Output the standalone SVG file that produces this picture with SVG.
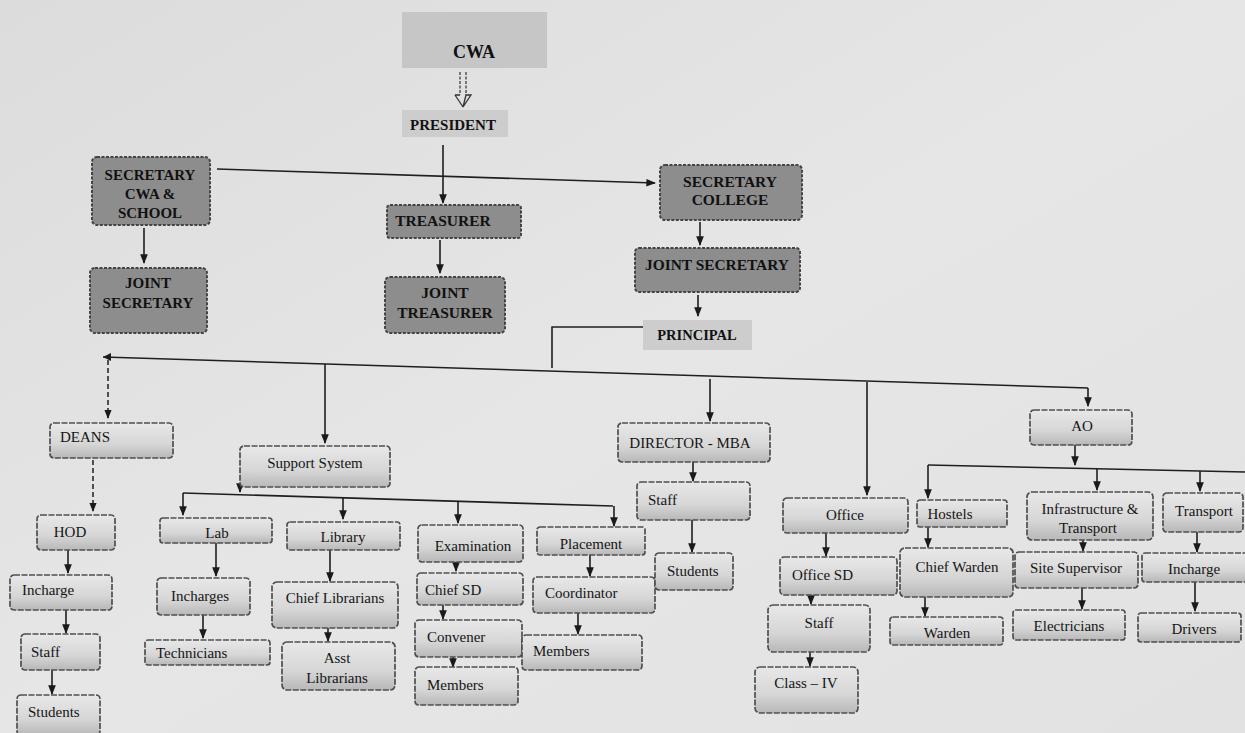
<svg xmlns="http://www.w3.org/2000/svg" width="1245" height="733" viewBox="0 0 1245 733">
<defs>
<linearGradient id="bg" x1="0" y1="0" x2="1" y2="1">
<stop offset="0" stop-color="#dcdcdc"/>
<stop offset="0.5" stop-color="#e6e6e6"/>
<stop offset="1" stop-color="#e2e2e2"/>
</linearGradient>
<linearGradient id="lt" x1="0" y1="0" x2="0" y2="1">
<stop offset="0" stop-color="#e8e8e8"/>
<stop offset="0.6" stop-color="#d6d6d6"/>
<stop offset="1" stop-color="#b8b8b8"/>
</linearGradient>
<marker id="ah" viewBox="0 0 10 10" refX="9" refY="5" markerWidth="6" markerHeight="6" orient="auto">
<path d="M0,1 L10,5 L0,9 z" fill="#1a1a1a"/>
</marker>
<style>
.lt{fill:url(#lt);stroke:#4f4f4f;stroke-width:1.7;stroke-dasharray:6 1.5}
.dk{fill:#8d8d8d;stroke:#444;stroke-width:2;stroke-dasharray:3 1.5}
.t{font-family:"Liberation Serif","Times New Roman",serif;font-size:15px;fill:#151515}
.b{font-family:"Liberation Serif","Times New Roman",serif;font-weight:bold;fill:#111;text-anchor:middle}
.c{text-anchor:middle}
.ln{fill:none;stroke:#1f1f1f;stroke-width:1.6}
.ar{fill:none;stroke:#1f1f1f;stroke-width:1.6;marker-end:url(#ah)}
.da{fill:none;stroke:#1f1f1f;stroke-width:1.5;stroke-dasharray:5 3;marker-end:url(#ah)}
</style>
</defs>
<rect width="1245" height="733" fill="url(#bg)"/>

<g id="connectors">
<path d="M460,72 V95 M466,72 V95" fill="none" stroke="#333" stroke-width="1.2" stroke-dasharray="3 1.5"/>
<path d="M455,95 H460 M466,95 H471 L463,107 Z M455,95 L463,107" fill="none" stroke="#333" stroke-width="1.3"/>
<path class="ar" d="M443,145 V203"/>
<path class="ar" d="M217,169 L655,183"/>
<path class="ar" d="M144,228 V263"/>
<path class="ar" d="M440,240 V273"/>
<path class="ar" d="M700,222 V245"/>
<path class="ar" d="M698,295 V316"/>
<path class="ln" d="M643,327 H552 V368"/>
<path class="ln" d="M1088,388 L103,357"/>
<path d="M103,357 L111,353 L111,361 z" fill="#1a1a1a"/>
<path class="da" d="M108,360 V418"/>
<path class="ar" d="M325,364 V443"/>
<path class="ar" d="M710,379 V421"/>
<path class="ar" d="M867,382 V495"/>
<path class="ar" d="M1088,388 V406"/>
<path class="da" d="M93,460 V511"/>
<path class="ar" d="M68,550 V573"/>
<path class="ar" d="M66,610 V633"/>
<path class="ar" d="M52,670 V694"/>
<path class="ar" d="M240,487 V492"/>
<path class="ln" d="M183,493 L613,506"/>
<path class="ar" d="M183,493 V515"/>
<path class="ar" d="M343,498 V519"/>
<path class="ar" d="M458,501 V523"/>
<path class="ar" d="M614,506 V526"/>
<path class="ar" d="M216,543 V576"/>
<path class="ar" d="M203,615 V638"/>
<path class="ar" d="M330,550 V581"/>
<path class="ar" d="M328,628 V641"/>
<path class="ar" d="M456,562 V571"/>
<path class="ar" d="M443,605 V619"/>
<path class="ar" d="M453,657 V667"/>
<path class="ar" d="M590,555 V576"/>
<path class="ar" d="M578,613 V634"/>
<path class="ar" d="M693,462 V481"/>
<path class="ar" d="M692,520 V552"/>
<path class="ar" d="M826,533 V556"/>
<path class="ar" d="M811,595 V604"/>
<path class="ar" d="M810,652 V666"/>
<path class="ar" d="M1075,445 V465"/>
<path class="ln" d="M928,465 L1245,472"/>
<path class="ar" d="M928,465 V498"/>
<path class="ar" d="M1097,469 V490"/>
<path class="ar" d="M1200,471 V491"/>
<path class="ar" d="M928,527 V547"/>
<path class="ar" d="M925,597 V616"/>
<path class="ar" d="M1083,540 V551"/>
<path class="ar" d="M1082,588 V609"/>
<path class="ar" d="M1197,532 V552"/>
<path class="ar" d="M1195,582 V611"/>
</g>

<g id="cwa"><rect x="402" y="12" width="145" height="56" fill="#c6c6c6"/><text class="b" x="474" y="58" font-size="18">CWA</text></g>
<g id="president"><rect x="402" y="110" width="106" height="27" fill="#cdcdcd"/><text class="b" x="453" y="130" font-size="15">PRESIDENT</text></g>
<g id="secretary-cwa-school"><rect class="dk" x="92" y="157" width="118" height="68" rx="5"/><text class="b" x="150" y="180" font-size="15">SECRETARY</text><text class="b" x="150" y="199" font-size="15">CWA &amp;</text><text class="b" x="150" y="218" font-size="15">SCHOOL</text></g>
<g id="joint-secretary-left"><rect class="dk" x="90" y="268" width="117" height="65" rx="5"/><text class="b" x="148" y="288" font-size="15">JOINT</text><text class="b" x="148" y="308" font-size="15">SECRETARY</text></g>
<g id="treasurer"><rect class="dk" x="387" y="205" width="134" height="33" rx="3"/><text class="b" x="443" y="226" font-size="15.5">TREASURER</text></g>
<g id="joint-treasurer"><rect class="dk" x="385" y="277" width="120" height="56" rx="5"/><text class="b" x="445" y="298" font-size="15.5">JOINT</text><text class="b" x="445" y="318" font-size="15.5">TREASURER</text></g>
<g id="secretary-college"><rect class="dk" x="660" y="165" width="142" height="55" rx="5"/><text class="b" x="730" y="187" font-size="15.5">SECRETARY</text><text class="b" x="730" y="205" font-size="15.5">COLLEGE</text></g>
<g id="joint-secretary-right"><rect class="dk" x="635" y="248" width="165" height="44" rx="4"/><text class="b" x="717" y="270" font-size="15.4">JOINT SECRETARY</text></g>
<g id="principal"><rect x="643" y="320" width="109" height="30" fill="#cdcdcd"/><text class="b" x="697" y="340" font-size="14.5">PRINCIPAL</text></g>

<g id="deans"><rect class="lt" x="50" y="423" width="123" height="35" rx="4"/><text class="t" x="60" y="442" font-size="14">DEANS</text></g>
<g id="hod"><rect class="lt" x="37" y="515" width="78" height="35" rx="4"/><text class="t c" x="70" y="537" font-size="13">HOD</text></g>
<g id="incharge-deans"><rect class="lt" x="10" y="575" width="102" height="35" rx="4"/><text class="t" x="22" y="595" font-size="14">Incharge</text></g>
<g id="staff-deans"><rect class="lt" x="21" y="634" width="79" height="36" rx="4"/><text class="t" x="31" y="657" font-size="14">Staff</text></g>
<g id="students-deans"><rect class="lt" x="17" y="695" width="83" height="40" rx="4"/><text class="t" x="28" y="717" font-size="13">Students</text></g>

<g id="support-system"><rect class="lt" x="240" y="446" width="150" height="41" rx="4"/><text class="t c" x="315" y="468">Support System</text></g>
<g id="lab"><rect class="lt" x="160" y="518" width="112" height="25" rx="3"/><text class="t c" x="217" y="538" font-size="14">Lab</text></g>
<g id="library"><rect class="lt" x="287" y="522" width="113" height="28" rx="3"/><text class="t c" x="343" y="542" font-size="15.5">Library</text></g>
<g id="incharges"><rect class="lt" x="157" y="578" width="93" height="37" rx="4"/><text class="t c" x="200" y="601" font-size="16">Incharges</text></g>
<g id="technicians"><rect class="lt" x="145" y="640" width="125" height="25" rx="3"/><text class="t" x="156" y="658" font-size="14.5">Technicians</text></g>
<g id="chief-librarians"><rect class="lt" x="272" y="582" width="126" height="46" rx="5"/><text class="t c" x="335" y="603" font-size="17">Chief Librarians</text></g>
<g id="asst-librarians"><rect class="lt" x="282" y="642" width="113" height="48" rx="5"/><text class="t c" x="337" y="663" font-size="15.8">Asst</text><text class="t c" x="337" y="683" font-size="15.8">Librarians</text></g>
<g id="examination"><rect class="lt" x="418" y="525" width="105" height="37" rx="4"/><text class="t c" x="473" y="551" font-size="15.8">Examination</text></g>
<g id="chief-sd"><rect class="lt" x="417" y="573" width="106" height="32" rx="4"/><text class="t" x="425" y="595" font-size="15.4">Chief SD</text></g>
<g id="convener"><rect class="lt" x="415" y="620" width="107" height="37" rx="4"/><text class="t" x="427" y="642" font-size="14.8">Convener</text></g>
<g id="members-exam"><rect class="lt" x="415" y="667" width="103" height="38" rx="4"/><text class="t" x="427" y="690" font-size="15.2">Members</text></g>
<g id="placement"><rect class="lt" x="537" y="527" width="108" height="28" rx="3"/><text class="t c" x="591" y="549" font-size="14.9">Placement</text></g>
<g id="coordinator"><rect class="lt" x="533" y="577" width="122" height="36" rx="4"/><text class="t" x="545" y="598" font-size="14.7">Coordinator</text></g>
<g id="members-placement"><rect class="lt" x="522" y="635" width="120" height="35" rx="4"/><text class="t" x="533" y="656" font-size="15.2">Members</text></g>

<g id="director-mba"><rect class="lt" x="618" y="423" width="152" height="39" rx="4"/><text class="t c" x="690" y="448" font-size="14.3">DIRECTOR - MBA</text></g>
<g id="staff-mba"><rect class="lt" x="637" y="482" width="113" height="38" rx="4"/><text class="t" x="648" y="505">Staff</text></g>
<g id="students-mba"><rect class="lt" x="655" y="553" width="78" height="37" rx="4"/><text class="t" x="667" y="576" font-size="14.2">Students</text></g>

<g id="office"><rect class="lt" x="783" y="498" width="125" height="35" rx="4"/><text class="t c" x="845" y="520">Office</text></g>
<g id="office-sd"><rect class="lt" x="780" y="557" width="117" height="38" rx="4"/><text class="t" x="792" y="580" font-size="15.4">Office SD</text></g>
<g id="staff-office"><rect class="lt" x="768" y="605" width="102" height="47" rx="5"/><text class="t c" x="819" y="628" font-size="15.5">Staff</text></g>
<g id="class-iv"><rect class="lt" x="755" y="667" width="103" height="46" rx="5"/><text class="t c" x="806" y="688" font-size="15.7">Class – IV</text></g>

<g id="ao"><rect class="lt" x="1030" y="410" width="102" height="35" rx="4"/><text class="t c" x="1082" y="431" font-size="16">AO</text></g>
<g id="hostels"><rect class="lt" x="917" y="500" width="90" height="27" rx="3"/><text class="t c" x="950" y="519" font-size="15.8">Hostels</text></g>
<g id="chief-warden"><rect class="lt" x="900" y="548" width="113" height="49" rx="5"/><text class="t c" x="957" y="572" font-size="16">Chief Warden</text></g>
<g id="warden"><rect class="lt" x="890" y="617" width="113" height="28" rx="3"/><text class="t c" x="947" y="638" font-size="15.5">Warden</text></g>
<g id="infrastructure-transport"><rect class="lt" x="1027" y="492" width="126" height="48" rx="5"/><text class="t c" x="1090" y="514" font-size="14.6">Infrastructure &amp;</text><text class="t c" x="1088" y="533" font-size="14.6">Transport</text></g>
<g id="site-supervisor"><rect class="lt" x="1015" y="552" width="123" height="36" rx="4"/><text class="t c" x="1076" y="573" font-size="14.9">Site Supervisor</text></g>
<g id="electricians"><rect class="lt" x="1013" y="610" width="112" height="30" rx="3"/><text class="t c" x="1069" y="631" font-size="15.5">Electricians</text></g>
<g id="transport"><rect class="lt" x="1163" y="493" width="80" height="39" rx="4"/><text class="t c" x="1204" y="516">Transport</text></g>
<g id="incharge-transport"><rect class="lt" x="1142" y="553" width="106" height="29" rx="3"/><text class="t c" x="1194" y="574">Incharge</text></g>
<g id="drivers"><rect class="lt" x="1138" y="613" width="103" height="29" rx="3"/><text class="t c" x="1194" y="634">Drivers</text></g>
</svg>
